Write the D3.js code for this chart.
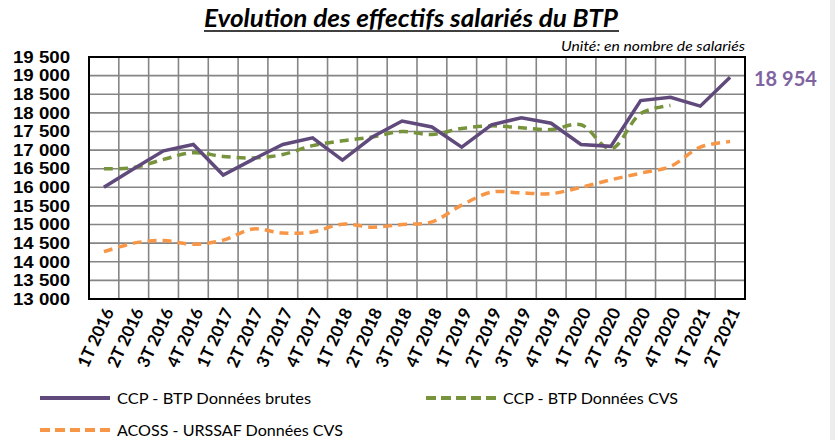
<!DOCTYPE html>
<html>
<head>
<meta charset="utf-8">
<script src="https://cdn.jsdelivr.net/npm/d3@7"></script>
<style>
  body { margin: 0; background: #fff; }
  svg { display: block; font-family: Lato, "Open Sans", sans-serif; }
</style>
</head>
<body>
<svg width="835" height="440"></svg>
<script>
var quarters = ["1T 2016", "2T 2016", "3T 2016", "4T 2016", "1T 2017", "2T 2017", "3T 2017", "4T 2017",
  "1T 2018", "2T 2018", "3T 2018", "4T 2018", "1T 2019", "2T 2019", "3T 2019", "4T 2019",
  "1T 2020", "2T 2020", "3T 2020", "4T 2020", "1T 2021", "2T 2021"];

var brutes = [16000, 16500, 16980, 17150, 16330, 16750, 17150, 17330, 16730, 17350, 17780, 17620,
  17080, 17680, 17870, 17720, 17150, 17100, 18330, 18420, 18180, 18954];
var cvs = [16500, 16530, 16750, 16930, 16830, 16790, 16880, 17120, 17250, 17350, 17500, 17420,
  17580, 17650, 17600, 17550, 17680, 17030, 17980, 18200];
var acoss = [14270, 14500, 14570, 14470, 14580, 14880, 14770, 14800, 15010, 14930, 15000, 15070,
  15520, 15870, 15850, 15830, 16000, 16200, 16380, 16560, 17080, 17230];

var yTicks = d3.range(13000, 19501, 500);

var svg = d3.select("svg"),
    width = +svg.attr("width"),
    height = +svg.attr("height");

var fmt = function (v) { return d3.format(",")(v).replace(",", " "); };

var x = d3.scaleBand().domain(quarters).range([89, 745]).padding(0);
var y = d3.scaleLinear().domain([13000, 19500]).range([299, 57]);
var cx = function (i) { return x(quarters[i]) + x.bandwidth() / 2; };

// light strip at right edge
svg.append("rect").attr("x", 830).attr("y", 0).attr("width", 5).attr("height", height).attr("fill", "#ececec");

// title
svg.append("text")
  .attr("x", 411).attr("y", 27)
  .attr("text-anchor", "middle")
  .attr("textLength", 414).attr("lengthAdjust", "spacingAndGlyphs")
  .style("font-size", "25px").style("font-weight", "bold").style("font-style", "italic")
  .text("Evolution des effectifs salariés du BTP");
svg.append("line").attr("x1", 204).attr("x2", 619).attr("y1", 31).attr("y2", 31)
  .attr("stroke", "#000").attr("stroke-width", 1.5);

svg.append("text")
  .attr("x", 745).attr("y", 51)
  .attr("text-anchor", "end")
  .attr("textLength", 184).attr("lengthAdjust", "spacingAndGlyphs")
  .style("font-size", "14px").style("font-style", "italic")
  .text("Unité: en nombre de salariés");

// grid
var grid = svg.append("g").attr("stroke", "#858585").attr("stroke-width", 1.6);
grid.selectAll(".h").data(yTicks.slice(1, -1)).enter().append("line")
  .attr("x1", 89).attr("x2", 745)
  .attr("y1", function (d) { return y(d); }).attr("y2", function (d) { return y(d); });
grid.selectAll(".v").data(quarters.slice(1)).enter().append("line")
  .attr("x1", function (d) { return x(d); }).attr("x2", function (d) { return x(d); })
  .attr("y1", 57).attr("y2", 299);

svg.append("rect").attr("x", 89).attr("y", 57).attr("width", 656).attr("height", 242)
  .attr("fill", "none").attr("stroke", "#000").attr("stroke-width", 2);

// y axis labels
svg.append("g").selectAll("text").data(yTicks).enter().append("text")
  .attr("x", 70).attr("y", function (d) { return y(d); })
  .attr("dy", "0.36em")
  .attr("text-anchor", "end")
  .attr("textLength", 57).attr("lengthAdjust", "spacingAndGlyphs")
  .style("font-family", "'Liberation Sans', Arial, sans-serif")
  .style("font-size", "16px").style("font-weight", "bold")
  .text(fmt);

// x axis labels
svg.append("g").selectAll("text").data(quarters).enter().append("text")
  .attr("transform", function (d, i) { return "translate(" + (cx(i) + 5) + ",309) rotate(-65)"; })
  .attr("text-anchor", "end")
  .attr("dy", "0.35em")
  .style("font-size", "17px").style("font-weight", "bold")
  .text(function (d) { return d; });

// lines
var straight = d3.line().x(function (d, i) { return cx(i); }).y(function (d) { return y(d); });
var smooth = d3.line().x(function (d, i) { return cx(i); }).y(function (d) { return y(d); })
  .curve(d3.curveCatmullRom.alpha(0.5));

svg.append("path").datum(acoss).attr("d", smooth)
  .attr("fill", "none").attr("stroke", "#f79646").attr("stroke-width", 3.5)
  .attr("stroke-dasharray", "9,6");
svg.append("path").datum(cvs).attr("d", smooth)
  .attr("fill", "none").attr("stroke", "#77933c").attr("stroke-width", 3.5)
  .attr("stroke-dasharray", "9,6");
svg.append("path").datum(brutes).attr("d", straight)
  .attr("fill", "none").attr("stroke", "#604a7b").attr("stroke-width", 3.5)
  .attr("stroke-linejoin", "miter");

// last value label
svg.append("text")
  .attr("x", 754).attr("y", 86)
  .attr("fill", "#8064a2")
  .style("font-size", "20px").style("font-weight", "bold")
  .text(fmt(brutes[brutes.length - 1]));

// legend
var legendItems = [
  { label: "CCP - BTP Données brutes", color: "#604a7b", dash: null, x: 40, y: 398, len: 194 },
  { label: "CCP - BTP Données CVS", color: "#77933c", dash: "10,5", x: 426, y: 398, len: 175 },
  { label: "ACOSS - URSSAF Données CVS", color: "#f79646", dash: "10,5", x: 40, y: 430, len: 226 }
];
var legend = svg.append("g").selectAll("g").data(legendItems).enter().append("g");
legend.append("line")
  .attr("x1", function (d) { return d.x; }).attr("x2", function (d) { return d.x + 70; })
  .attr("y1", function (d) { return d.y; }).attr("y2", function (d) { return d.y; })
  .attr("stroke", function (d) { return d.color; }).attr("stroke-width", 4)
  .attr("stroke-dasharray", function (d) { return d.dash; });
legend.append("text")
  .attr("x", function (d) { return d.x + 77; }).attr("y", function (d) { return d.y; })
  .attr("dy", "0.35em")
  .attr("textLength", function (d) { return d.len; }).attr("lengthAdjust", "spacingAndGlyphs")
  .style("font-size", "16px")
  .text(function (d) { return d.label; });
</script>
</body>
</html>
